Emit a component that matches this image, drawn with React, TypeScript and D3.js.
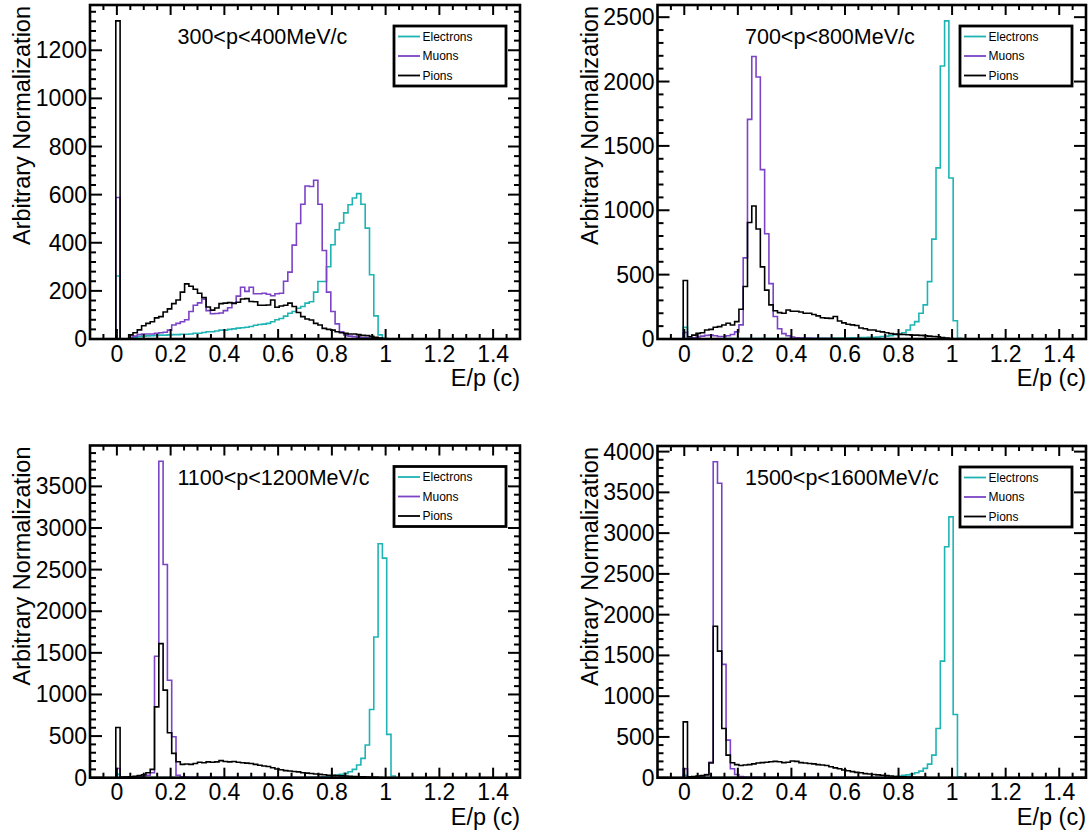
import React from 'react';
import * as d3 from 'd3';

// Histogram binning: 100 bins from -0.1 to 1.5 (E/p)
const BIN_LO = -0.1;
const BIN_W = 0.016;
const N_BINS = 100;
const FIRST_BIN = 6; // arrays below start at the bin containing E/p = 0

const SERIES_NAMES = ['Electrons', 'Muons', 'Pions'];
const TITLES = ['300<p<400MeV/c', '700<p<800MeV/c', '1100<p<1200MeV/c', '1500<p<1600MeV/c'];
const Y_MAJOR = [200, 500, 500, 500];
const Y_MINOR = [40, 100, 100, 100];
const X_TICK_STEP = 0.05;
const X_TICK_LABEL_EVERY = 4;

// ---- 300<p<400 MeV/c ----
const p1Electrons = [262, 0, 0, 4, 8, 10, 12, 13, 14, 15, 16, 16, 17, 18, 18, 20, 20, 21, 24, 24, 27, 30, 30, 33, 37, 37, 40, 42, 45, 47, 49, 52, 57, 60, 62, 65, 72, 80, 85, 95, 107, 114, 128, 135, 149, 155, 195, 239, 239, 300, 392, 454, 482, 524, 558, 586, 604, 560, 461, 267, 96, 17, 3];
const p1Muons = [588, 0, 0, 0, 12, 18, 21, 21, 21, 24, 26, 28, 37, 58, 65, 72, 80, 114, 140, 150, 165, 118, 105, 106, 108, 118, 130, 150, 178, 215, 198, 215, 188, 188, 190, 186, 180, 188, 190, 240, 278, 390, 480, 560, 636, 634, 660, 560, 368, 195, 114, 63, 30, 17, 12, 10, 8, 6, 5, 4, 3, 2];
const p1Pions = [1322, 0, 0, 17, 26, 38, 55, 65, 72, 88, 93, 112, 125, 147, 162, 195, 229, 219, 207, 190, 172, 133, 120, 129, 147, 149, 151, 148, 153, 166, 168, 156, 155, 140, 140, 141, 162, 132, 137, 140, 149, 135, 110, 93, 83, 79, 65, 58, 44, 40, 37, 30, 26, 24, 21, 21, 18, 15, 14, 11, 7, 4];

// ---- 700<p<800 MeV/c ----
const p2Electrons = [90, 5, 2, 2, 2, 2, 2, 2, 2, 2, 3, 3, 3, 3, 3, 3, 3, 3, 3, 3, 3, 3, 4, 4, 4, 4, 4, 4, 5, 5, 5, 5, 6, 6, 6, 7, 7, 8, 8, 9, 10, 11, 12, 13, 14, 16, 20, 22, 25, 34, 38, 49, 70, 109, 135, 200, 265, 446, 776, 1329, 2121, 2471, 1251, 142, 5];
const p2Muons = [50, 5, 10, 15, 22, 28, 30, 25, 20, 20, 25, 35, 55, 110, 630, 1706, 2194, 2035, 1316, 818, 430, 175, 80, 42, 25, 15, 10, 8, 6, 5, 4, 4, 3, 3, 3, 2, 2, 2, 2, 2, 2, 2, 2, 2, 2, 2, 2, 2, 2, 2, 2, 2, 2, 2, 2, 2, 2, 2, 1];
const p2Pions = [454, 18, 30, 44, 49, 70, 75, 91, 96, 109, 122, 109, 135, 231, 408, 905, 1033, 854, 560, 380, 265, 220, 205, 200, 225, 215, 215, 210, 200, 200, 190, 180, 165, 162, 160, 175, 140, 125, 115, 110, 105, 85, 80, 70, 70, 60, 55, 48, 42, 38, 36, 35, 33, 30, 30, 28, 25, 22, 20, 18, 12, 8, 4];

// ---- 1100<p<1200 MeV/c ----
const p3Electrons = [40, 5, 2, 2, 2, 2, 2, 2, 2, 2, 2, 2, 2, 2, 2, 2, 2, 2, 2, 2, 2, 2, 2, 2, 2, 2, 3, 3, 3, 3, 3, 3, 3, 3, 3, 3, 3, 3, 3, 3, 3, 3, 3, 3, 3, 5, 6, 8, 10, 15, 20, 32, 40, 52, 72, 100, 152, 232, 392, 820, 1691, 2810, 2638, 520, 20];
const p3Muons = [110, 5, 8, 10, 12, 15, 20, 30, 60, 1459, 3801, 2562, 1171, 492, 30, 12, 8, 6, 5, 4, 4, 4, 3, 3, 3, 3, 3, 3, 2, 2, 2, 2, 2, 2, 2, 2, 2, 2, 2, 2, 2, 2, 2, 2, 2, 2, 2, 2, 2, 2, 2, 2, 2, 2, 2, 2, 2, 2, 2, 2, 1];
const p3Pions = [604, 5, 8, 12, 18, 25, 35, 60, 100, 851, 1611, 1052, 540, 292, 192, 160, 165, 160, 170, 185, 180, 190, 185, 190, 205, 195, 190, 195, 185, 180, 175, 170, 160, 150, 140, 135, 120, 105, 95, 85, 80, 75, 70, 60, 55, 50, 45, 40, 35, 30, 28, 25, 22, 20, 18, 15, 12, 10, 8, 6, 4, 2];

// ---- 1500<p<1600 MeV/c ----
const p4Electrons = [30, 3, 2, 2, 2, 2, 2, 2, 2, 2, 2, 2, 2, 2, 2, 2, 2, 2, 2, 2, 2, 2, 2, 2, 2, 2, 3, 3, 3, 3, 3, 3, 3, 3, 3, 3, 3, 3, 3, 3, 3, 3, 3, 3, 3, 3, 3, 6, 10, 15, 20, 28, 35, 45, 61, 81, 114, 167, 277, 604, 1430, 2833, 3199, 775, 10];
const p4Muons = [110, 5, 8, 10, 20, 40, 190, 3875, 3611, 1390, 461, 110, 40, 15, 8, 5, 4, 4, 3, 3, 3, 3, 2, 2, 2, 2, 2, 2, 2, 2, 2, 2, 2, 2, 2, 2, 2, 2, 2, 2, 2, 2, 2, 2, 2, 2, 2, 2, 2, 2, 2, 2, 2, 2, 2, 1];
const p4Pions = [685, 10, 15, 20, 25, 35, 180, 1858, 1553, 604, 277, 184, 160, 150, 155, 160, 170, 180, 185, 190, 195, 200, 195, 185, 190, 205, 200, 185, 180, 175, 170, 160, 155, 150, 135, 120, 110, 95, 85, 75, 65, 60, 50, 45, 40, 35, 30, 25, 20, 15, 12, 10, 8, 6, 5, 4, 3];

const PANEL_DATA = [
  [p1Electrons, p1Muons, p1Pions],
  [p2Electrons, p2Muons, p2Pions],
  [p3Electrons, p3Muons, p3Pions],
  [p4Electrons, p4Muons, p4Pions],
];

const COLORS = ['#1fb4b4', '#7b43c6', '#000000'];
const FONT = '"Liberation Sans", Arial, Helvetica, sans-serif';

const FRAMES = [
  { x0: 90, x1: 520, y0: 5, y1: 339 },
  { x0: 657.5, x1: 1086, y0: 5, y1: 339 },
  { x0: 90, x1: 520, y0: 445.5, y1: 777.7 },
  { x0: 657.5, x1: 1086, y0: 446, y1: 777.7 },
];

function Panel({ idx }: { idx: number }) {
  const f = FRAMES[idx];
  const data = PANEL_DATA[idx];
  const x = d3.scaleLinear().domain([BIN_LO, BIN_LO + N_BINS * BIN_W]).range([f.x0, f.x1]);
  const yMax = 1.05 * (d3.max(data.flat()) as number);
  const y = d3.scaleLinear().domain([0, yMax]).range([f.y1, f.y0]);
  const line = d3.line();

  const histPath = (vals: number[]) => {
    const pts: [number, number][] = [[x(BIN_LO), y(0)]];
    for (let k = 0; k < N_BINS; k++) {
      const j = k - FIRST_BIN;
      const v = j >= 0 && j < vals.length ? vals[j] : 0;
      const lo = BIN_LO + k * BIN_W;
      const hi = lo + BIN_W;
      pts.push([x(lo), y(v)], [x(hi), y(v)]);
    }
    pts.push([x(BIN_LO + N_BINS * BIN_W), y(0)]);
    return line(pts) as string;
  };

  // x ticks
  const xTicks: { v: number; major: boolean }[] = [];
  const iMin = Math.ceil(BIN_LO / X_TICK_STEP + 1e-6);
  const iMax = Math.floor((BIN_LO + N_BINS * BIN_W) / X_TICK_STEP - 1e-6);
  for (let i = iMin; i <= iMax; i++) {
    xTicks.push({ v: i * X_TICK_STEP, major: i % X_TICK_LABEL_EVERY === 0 });
  }
  // y ticks
  const yTicks: { v: number; major: boolean }[] = [];
  const nMinor = Y_MAJOR[idx] / Y_MINOR[idx];
  for (let i = 0; i * Y_MINOR[idx] <= yMax; i++) {
    yTicks.push({ v: i * Y_MINOR[idx], major: i % nMinor === 0 });
  }

  const xMaj = 10, xMin = 5, yMaj = 12, yMin = 6;
  const legX = f.x1 - 126;
  const legY = f.y0 + 21;

  return (
    <g>
      {data.map((vals, s) => (
        <path key={s} d={histPath(vals)} fill="none" stroke={COLORS[s]} strokeWidth={1.6} strokeLinejoin="miter" />
      ))}
      {/* ticks */}
      <g stroke="#000" strokeWidth={2}>
        {xTicks.map((t, i) => {
          const px = x(t.v);
          const L = t.major ? xMaj : xMin;
          return (
            <g key={'x' + i}>
              <line x1={px} x2={px} y1={f.y1} y2={f.y1 - L} />
              <line x1={px} x2={px} y1={f.y0} y2={f.y0 + L} />
            </g>
          );
        })}
        {yTicks.map((t, i) => {
          const py = y(t.v);
          const L = t.major ? yMaj : yMin;
          return (
            <g key={'y' + i}>
              <line x1={f.x0} x2={f.x0 + L} y1={py} y2={py} />
              <line x1={f.x1} x2={f.x1 - L} y1={py} y2={py} />
            </g>
          );
        })}
      </g>
      <rect x={f.x0} y={f.y0} width={f.x1 - f.x0} height={f.y1 - f.y0} fill="none" stroke="#000" strokeWidth={2.6} />
      {/* tick labels */}
      <g fontFamily={FONT} fontSize={23} fill="#000">
        {xTicks.filter(t => t.major).map((t, i) => (
          <text key={'xl' + i} x={x(t.v)} y={f.y1 + 22.5} textAnchor="middle">
            {String(+t.v.toFixed(1))}
          </text>
        ))}
        {yTicks.filter(t => t.major).map((t, i) => (
          <text key={'yl' + i} x={f.x0 - 3} y={y(t.v)} textAnchor="end" dominantBaseline="central">
            {t.v}
          </text>
        ))}
        <text x={f.x1} y={f.y1 + 47} textAnchor="end" fontSize={23.5}>E/p (c)</text>
        <text transform={`translate(${f.x0 - 60},${f.y0 + 1}) rotate(-90)`} textAnchor="end" fontSize={23.5}>
          Arbitrary Normalization
        </text>
        <text x={f.x0 + 87.5} y={f.y0 + 39} fontSize={21.5}>{TITLES[idx]}</text>
      </g>
      {/* legend */}
      <g>
        <rect x={legX} y={legY} width={112} height={60} fill="#fff" stroke="#000" strokeWidth={2.8} />
        {SERIES_NAMES.map((n, s) => (
          <g key={n}>
            <line x1={legX + 4} x2={legX + 26} y1={legY + 10.5 + s * 19.5} y2={legY + 10.5 + s * 19.5} stroke={COLORS[s]} strokeWidth={1.8} />
            <text x={legX + 28.5} y={legY + 10.5 + s * 19.5} dominantBaseline="central" fontFamily={FONT} fontSize={12}>
              {n}
            </text>
          </g>
        ))}
      </g>
    </g>
  );
}

export default function App() {
  return (
    <svg width={1091} height={832} style={{ position: 'absolute', left: 0, top: 0, background: '#fff' }}>
      <rect width={1091} height={832} fill="#fff" />
      {FRAMES.map((_, i) => (
        <Panel key={i} idx={i} />
      ))}
    </svg>
  );
}
